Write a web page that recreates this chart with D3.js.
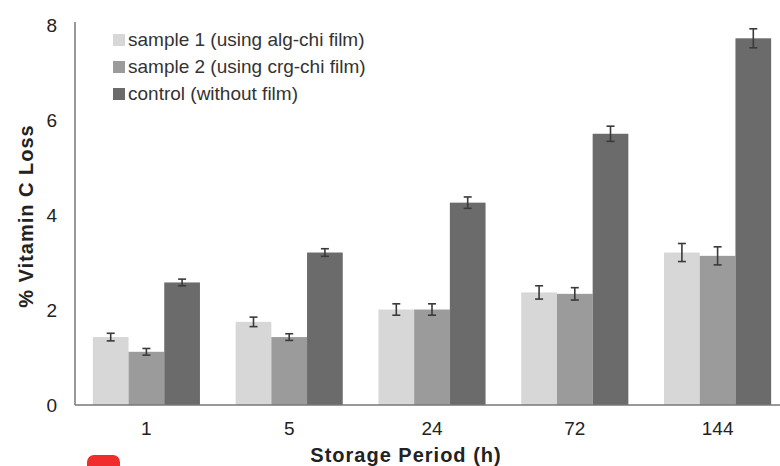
<!DOCTYPE html>
<html>
<head>
<meta charset="utf-8">
<script src="https://cdn.jsdelivr.net/npm/d3@7"></script>
<style>
  body { margin: 0; background: #fff; }
  svg { font-family: "Liberation Sans", Arial, sans-serif; }
</style>
</head>
<body>
<svg id="chart" width="780" height="466"></svg>
<script>
const periods = ['1', '5', '24', '72', '144'];
const seriesNames = ['sample 1 (using alg-chi film)', 'sample 2 (using crg-chi film)', 'control (without film)'];
const sample1 = [1.43, 1.75, 2.01, 2.37, 3.21];
const sample1Err = [0.08, 0.10, 0.12, 0.14, 0.19];
const sample2 = [1.12, 1.43, 2.01, 2.34, 3.14];
const sample2Err = [0.07, 0.07, 0.12, 0.13, 0.19];
const control = [2.58, 3.21, 4.26, 5.71, 7.72];
const controlErr = [0.07, 0.08, 0.12, 0.16, 0.20];
const yTicks = [0, 2, 4, 6, 8];

const colors = ['#d6d7d6', '#9a9b9a', '#6b6b6b'];
const values = [sample1, sample2, control];
const errors = [sample1Err, sample2Err, controlErr];

const plotLeft = 75;
const plotRight = 789;
const plotBottom = 405;
const plotTop = 25;

const svg = d3.select('#chart');

const x0 = d3.scaleBand()
  .domain(periods)
  .range([plotLeft, plotRight])
  .paddingInner(0.25)
  .paddingOuter(0.125);

const x1 = d3.scaleBand()
  .domain(d3.range(seriesNames.length))
  .range([0, x0.bandwidth()]);

const y = d3.scaleLinear()
  .domain([0, 8])
  .range([plotBottom, plotTop]);

// bars
const rows = [];
periods.forEach((p, i) => {
  values.forEach((s, k) => {
    rows.push({ period: p, k: k, value: s[i], err: errors[k][i] });
  });
});

svg.append('g')
  .selectAll('rect')
  .data(rows)
  .enter()
  .append('rect')
  .attr('x', (d) => x0(d.period) + x1(d.k))
  .attr('y', (d) => y(d.value))
  .attr('width', x1.bandwidth())
  .attr('height', (d) => plotBottom - y(d.value))
  .attr('fill', (d) => colors[d.k]);

// error bars
const errG = svg.append('g')
  .attr('stroke', '#3a3a3a')
  .attr('stroke-width', 1.6)
  .attr('fill', 'none');

rows.forEach((d) => {
  const cx = x0(d.period) + x1(d.k) + x1.bandwidth() / 2;
  const y1 = y(d.value + d.err);
  const y2 = y(d.value - d.err);
  errG.append('line').attr('x1', cx).attr('x2', cx).attr('y1', y1).attr('y2', y2);
  errG.append('line').attr('x1', cx - 4).attr('x2', cx + 4).attr('y1', y1).attr('y2', y1);
  errG.append('line').attr('x1', cx - 4).attr('x2', cx + 4).attr('y1', y2).attr('y2', y2);
});

// axes
const leftAxis = d3.axisLeft(y)
  .tickValues(yTicks)
  .tickSize(0)
  .tickPadding(18);
const yAxisG = svg.append('g')
  .attr('transform', `translate(${plotLeft}, 0)`)
  .call(leftAxis);
yAxisG.select('.domain')
  .attr('stroke', '#777')
  .attr('stroke-width', 1.5)
  .attr('d', `M0,${plotTop - 3}V${plotBottom}`);
yAxisG.selectAll('text')
  .attr('font-size', 19)
  .attr('fill', '#222')
  .attr('font-family', '"Liberation Sans", Arial, sans-serif');

const bottomAxis = d3.axisBottom(x0)
  .tickSize(0)
  .tickPadding(17);
const xAxisG = svg.append('g')
  .attr('transform', `translate(0, ${plotBottom})`)
  .call(bottomAxis);
xAxisG.select('.domain')
  .attr('stroke', '#777')
  .attr('stroke-width', 1.5)
  .attr('d', `M${plotLeft},0H780`);
xAxisG.selectAll('text')
  .attr('font-size', 19)
  .attr('fill', '#222')
  .attr('font-family', '"Liberation Sans", Arial, sans-serif');

// axis titles
svg.append('text')
  .text('Storage Period (h)')
  .attr('x', 406)
  .attr('y', 462)
  .attr('text-anchor', 'middle')
  .attr('font-size', 20)
  .attr('letter-spacing', 1)
  .attr('font-weight', 'bold')
  .attr('fill', '#222');

svg.append('text')
  .text('% Vitamin C Loss')
  .attr('transform', 'translate(33, 216) rotate(-90)')
  .attr('text-anchor', 'middle')
  .attr('font-size', 20)
  .attr('letter-spacing', 1)
  .attr('font-weight', 'bold')
  .attr('fill', '#222');

// legend
const legend = svg.append('g')
  .attr('transform', 'translate(113, 46)');
seriesNames.forEach((name, k) => {
  const g = legend.append('g').attr('transform', `translate(0, ${k * 27})`);
  g.append('rect')
    .attr('width', 12)
    .attr('height', 12)
    .attr('y', -12)
    .attr('fill', colors[k]);
  g.append('text')
    .text(name)
    .attr('x', 15)
    .attr('y', 0)
    .attr('font-size', 19)
    .attr('fill', '#333');
});

// red marker at bottom
svg.append('rect')
  .attr('x', 87)
  .attr('y', 455)
  .attr('width', 33)
  .attr('height', 22)
  .attr('rx', 7)
  .attr('fill', '#f02c2c');
</script>
</body>
</html>
